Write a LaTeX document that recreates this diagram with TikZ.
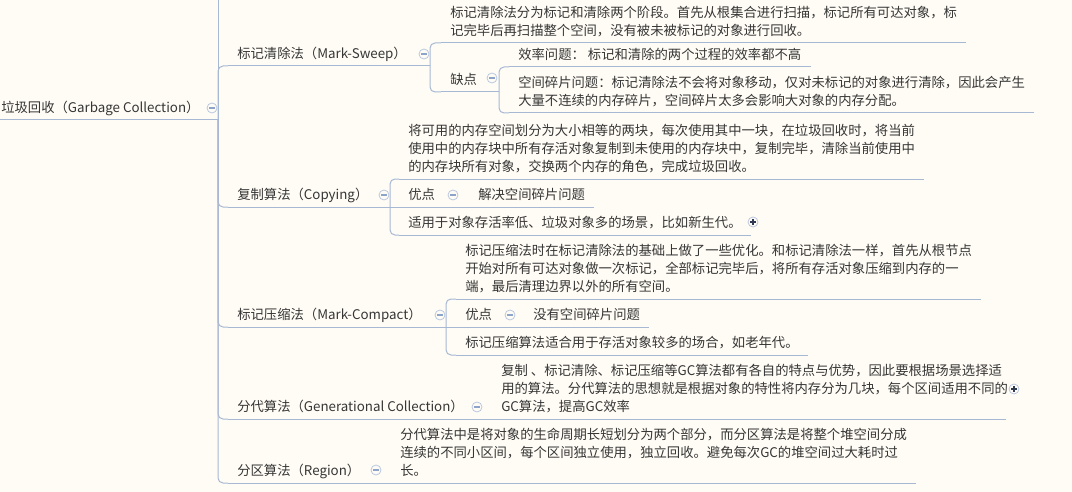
\documentclass[tikz,border=0pt]{standalone}
\usepackage{fontspec}
\setmainfont{Noto Sans CJK SC}
\usepackage{tikz}

\definecolor{paper}{HTML}{FFFCF5}
\definecolor{wireblue}{HTML}{A7B8D5}
\definecolor{foldblue}{HTML}{B9C7DF}
\definecolor{foldminus}{HTML}{8EA3CA}
\definecolor{plusink}{HTML}{2F3A52}
\definecolor{inkgray}{HTML}{363636}

\tikzset{
	wire/.style={draw=wireblue, line width=0.75pt, rounded corners=3.75pt},
	topic/.style={anchor=south west, inner xsep=6.75pt, inner ysep=0pt, text depth=5.2pt,
		align=left, text=inkgray, font=\fontsize{10}{13.5}\selectfont},
	fold/.style={circle, draw=foldblue, fill=paper, line width=0.6pt, minimum size=7.5pt, inner sep=0pt,
		path picture={\draw[foldminus, line width=0.8pt]
			([xshift=-2pt]path picture bounding box.center) -- ([xshift=2pt]path picture bounding box.center);}},
	unfold/.style={circle, draw=foldblue, fill=paper, line width=0.6pt, minimum size=7.5pt, inner sep=0pt,
		path picture={\draw[plusink, line width=0.8pt]
			([xshift=-2pt]path picture bounding box.center) -- ([xshift=2pt]path picture bounding box.center)
			([yshift=-2pt]path picture bounding box.center) -- ([yshift=2pt]path picture bounding box.center);}}
}

\begin{document}
\begin{tikzpicture}[x=0.75pt, y=-0.75pt]
		\useasboundingbox (0,0) rectangle (1072,492);
		\fill[paper] (0,0) rectangle (1072,492);
		% topics
		\node[topic] (root) at (-8,120) {垃圾回收（Garbage Collection）};
		\node[topic] (ms) at (228,66) {标记清除法（Mark-Sweep）};
		\node[topic] (msd) at (441,43) {标记清除法分为标记和清除两个阶段。首先从根集合进行扫描，标记所有可达对象，标\\记完毕后再扫描整个空间，没有被未被标记的对象进行回收。};
		\node[topic] (msc) at (441,92) {缺点};
		\node[topic] (mse) at (509,67) {效率问题： 标记和清除的两个过程的效率都不高};
		\node[topic] (msf) at (509,113) {空间碎片问题：标记清除法不会将对象移动，仅对未标记的对象进行清除，因此会产生\\大量不连续的内存碎片，空间碎片太多会影响大对象的内存分配。};
		\node[topic] (cp) at (228,207) {复制算法（Copying）};
		\node[topic] (cpd) at (399,179) {将可用的内存空间划分为大小相等的两块，每次使用其中一块，在垃圾回收时，将当前\\使用中的内存块中所有存活对象复制到未使用的内存块中，复制完毕，清除当前使用中\\的内存块所有对象，交换两个内存的角色，完成垃圾回收。};
		\node[topic] (cpa) at (399,207) {优点};
		\node[topic] (cpb) at (469,207) {解决空间碎片问题};
		\node[topic] (cpc) at (399,235) {适用于对象存活率低、垃圾对象多的场景，比如新生代。};
		\node[topic] (mc) at (228,327) {标记压缩法（Mark-Compact）};
		\node[topic] (mcd) at (456,299) {标记压缩法时在标记清除法的基础上做了一些优化。和标记清除法一样，首先从根节点\\开始对所有可达对象做一次标记，全部标记完毕后，将所有存活对象压缩到内存的一\\端，最后清理边界以外的所有空间。};
		\node[topic] (mca) at (456,327) {优点};
		\node[topic] (mcb) at (524,327) {没有空间碎片问题};
		\node[topic] (mcc) at (456,355) {标记压缩算法适合用于存活对象较多的场合，如老年代。};
		\node[topic] (gc) at (228,419) {分代算法（Generational Collection）};
		\node[topic] (gcd) at (492,419) {复制 、标记清除、标记压缩等GC算法都有各自的特点与优势，因此要根据场景选择适\\用的算法。分代算法的思想就是根据对象的特性将内存分为几块，每个区间适用不同的\\GC算法，提高GC效率};
		\node[topic] (rg) at (228,483) {分区算法（Region）};
		\node[topic] (rgd) at (391,483) {分代算法中是将对象的生命周期长短划分为两个部分，而分区算法是将整个堆空间分成\\连续的不同小区间，每个区间独立使用，独立回收。避免每次GC的堆空间过大耗时过\\长。};

		% branch points
		\coordinate (spineTop) at (218,-10);
		\coordinate (bRoot) at (218,120);
		\coordinate (bMs) at (430,66);
		\coordinate (bMsc) at (499,92);
		\coordinate (bCp) at (390,207);
		\coordinate (bCpa) at (459,207);
		\coordinate (bMc) at (446,327);
		\coordinate (bMca) at (516,327);
		\coordinate (bGc) at (483,419);
		\coordinate (bRg) at (382,483);
		\coordinate (eGcd) at (1006,419);

		% underlines
		\foreach \n/\src in {root/bRoot, ms/bMs, msc/bMsc, cp/bCp, cpa/bCpa, mc/bMc, mca/bMca, gc/bGc, rg/bRg, gcd/eGcd}
			\draw[wire] (\n.south west) -- (\src);
		\foreach \n in {msd, mse, msf, cpd, cpb, cpc, mcd, mcb, mcc, rgd}
			\draw[wire] (\n.south west) -- (\n.south east);

		% connectors
		\draw[wire] (spineTop) -- (bRoot);
		\foreach \src/\dst in {bRoot/ms, bRoot/cp, bRoot/mc, bRoot/gc, bRoot/rg, bMs/msd, bMs/msc,
				bMsc/mse, bMsc/msf, bCp/cpd, bCp/cpc, bMc/mcd, bMc/mcc}
			\draw[wire] (\src) |- (\dst.south west);
		\foreach \src/\dst in {bCp/cpa, bCpa/cpb, bMc/mca, bMca/mcb, bGc/gcd, bRg/rgd}
			\draw[wire] (\src) -- (\dst.south west);

		% fold marks
		\node[fold] (fRoot) at (212,108) {};
		\node[fold] (fMs) at (424,54) {};
		\node[fold] (fMsc) at (492,78) {};
		\node[fold] (fCp) at (384,195) {};
		\node[fold] (fCpa) at (453,195) {};
		\node[fold] (fMc) at (440,315) {};
		\node[fold] (fMca) at (510,315) {};
		\node[fold] (fGc) at (477,407) {};
		\node[fold] (fRg) at (376,470) {};
		\node[unfold] (uCpc) at (753,222) {};
		\node[unfold] (uGcd) at (1014,389) {};
\end{tikzpicture}
\end{document}
